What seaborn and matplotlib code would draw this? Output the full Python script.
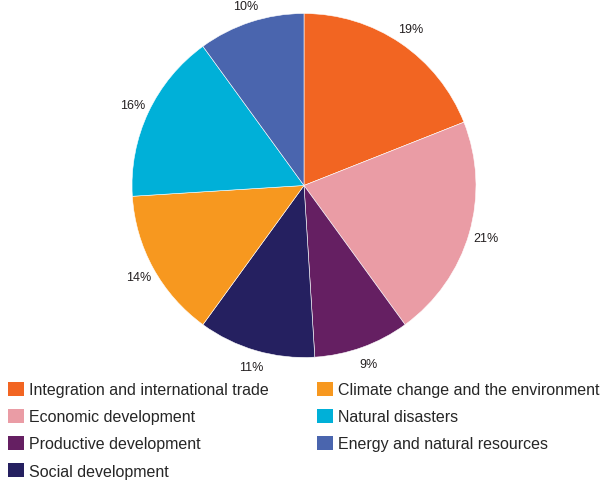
import matplotlib
matplotlib.use("Agg")
import matplotlib.pyplot as plt
import seaborn as sns
from matplotlib.patches import Patch

# dados
categorias = [
    "Integration and international trade",
    "Economic development",
    "Productive development",
    "Social development",
    "Climate change and the environment",
    "Natural disasters",
    "Energy and natural resources",
]
percentuais = [19, 21, 9, 11, 14, 16, 10]
cores = ["#F26522", "#EA9CA5", "#651F62", "#252060", "#F7981F", "#00B0D8", "#4A65AE"]

sns.set_theme(style="white")
plt.rcParams["font.family"] = ["Liberation Sans", "DejaVu Sans"]

paleta = sns.color_palette(cores)

fig = plt.figure(figsize=(6.08, 4.81), dpi=100)
ax = fig.add_axes([0.2171, 0.2547, 0.5658, 0.7152])

# pizza no sentido horario comecando no topo
wedges, textos, autotextos = ax.pie(
    percentuais,
    colors=paleta,
    startangle=90,
    counterclock=False,
    autopct="%1.0f%%",
    pctdistance=1.1,
    wedgeprops={"edgecolor": "white", "linewidth": 0.4},
    textprops={"fontsize": 9, "color": "#231F20"},
)
ax.set_xlim(-1, 1)
ax.set_ylim(-1, 1)
ax.set_aspect("equal")

# legenda em duas colunas abaixo da pizza
handles = [Patch(facecolor=c, edgecolor="none") for c in paleta]
fig.legend(
    handles, categorias,
    loc="upper left",
    bbox_to_anchor=(0.0132, 0.2045),
    ncol=2,
    frameon=False,
    fontsize=11.5,
    handlelength=1.0,
    handleheight=1.0,
    handletextpad=0.32,
    labelspacing=0.72,
    columnspacing=3.0,
    borderaxespad=0,
    borderpad=0,
)

fig.savefig("out.png", dpi=100)
